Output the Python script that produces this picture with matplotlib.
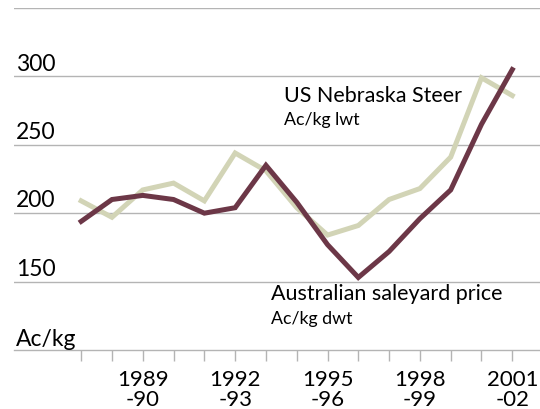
import matplotlib
matplotlib.use("Agg")
import matplotlib.pyplot as plt
import matplotlib.transforms as mtransforms

plt.rcParams['font.family'] = ['Lato', 'DejaVu Sans']

# season labels, 1987-88 .. 2001-02
seasons = ['1987-88', '1988-89', '1989-90', '1990-91', '1991-92', '1992-93',
           '1993-94', '1994-95', '1995-96', '1996-97', '1997-98', '1998-99',
           '1999-00', '2000-01', '2001-02']
australian = [194, 210, 213, 210, 200, 204, 235, 208, 177, 153, 172, 196, 217, 265, 305]
us_nebraska = [209, 197, 217, 222, 209, 244, 231, 204, 184, 191, 210, 218, 241, 299, 286]

tick_label_idx = [2, 5, 8, 11, 14]
tick_labels = ['1989\n-90', '1992\n-93', '1995\n-96', '1998\n-99', '2001\n-02']
grid_vals = [150, 200, 250, 300, 350]
ylabel_vals = [150, 200, 250, 300]

DARK = '#6c3747'
LIGHT = '#d2d4b6'
GRID = '#b4b4b4'

fig = plt.figure(figsize=(5.4, 4.1), dpi=100)
ax = fig.add_axes([0.026, 0.144, 0.974, 0.834])

x = list(range(len(seasons)))
ax.plot(x, us_nebraska, color=LIGHT, lw=3.6, solid_joinstyle='miter', zorder=3)
ax.plot(x, australian, color=DARK, lw=3.6, solid_joinstyle='miter', zorder=4)

for g in grid_vals:
    ax.axhline(g, color=GRID, lw=1.0, zorder=1)

ax.set_xlim(-2.18, 14.9)
ax.set_ylim(100, 350)

for s in ['top', 'right', 'left']:
    ax.spines[s].set_visible(False)
ax.spines['bottom'].set_color(GRID)
ax.spines['bottom'].set_linewidth(1.0)

ax.set_yticks([])
ax.set_xticks(x)
labels = [''] * len(x)
for i, lab in zip(tick_label_idx, tick_labels):
    labels[i] = lab
ax.set_xticklabels(labels, fontsize=16, linespacing=0.95)
ax.tick_params(axis='x', length=8, width=1.0, color=GRID, pad=6)

trans = mtransforms.blended_transform_factory(ax.transAxes, ax.transData)
for v in ylabel_vals:
    ax.text(0.004, v + 2, str(v), transform=trans, fontsize=16.5,
            ha='left', va='bottom')
ax.text(0.004, 101, 'Ac/kg', transform=trans, fontsize=16.5, ha='left', va='bottom')

# series annotations
ax.text(6.6, 282, 'US Nebraska Steer', fontsize=15.5, ha='left', va='baseline')
ax.text(6.6, 265, 'Ac/kg lwt', fontsize=12.8, ha='left', va='baseline')
ax.text(6.15, 137, 'Australian saleyard price', fontsize=15.5, ha='left', va='baseline')
ax.text(6.15, 120, 'Ac/kg dwt', fontsize=12.8, ha='left', va='baseline')

fig.savefig('out.png', dpi=100)
